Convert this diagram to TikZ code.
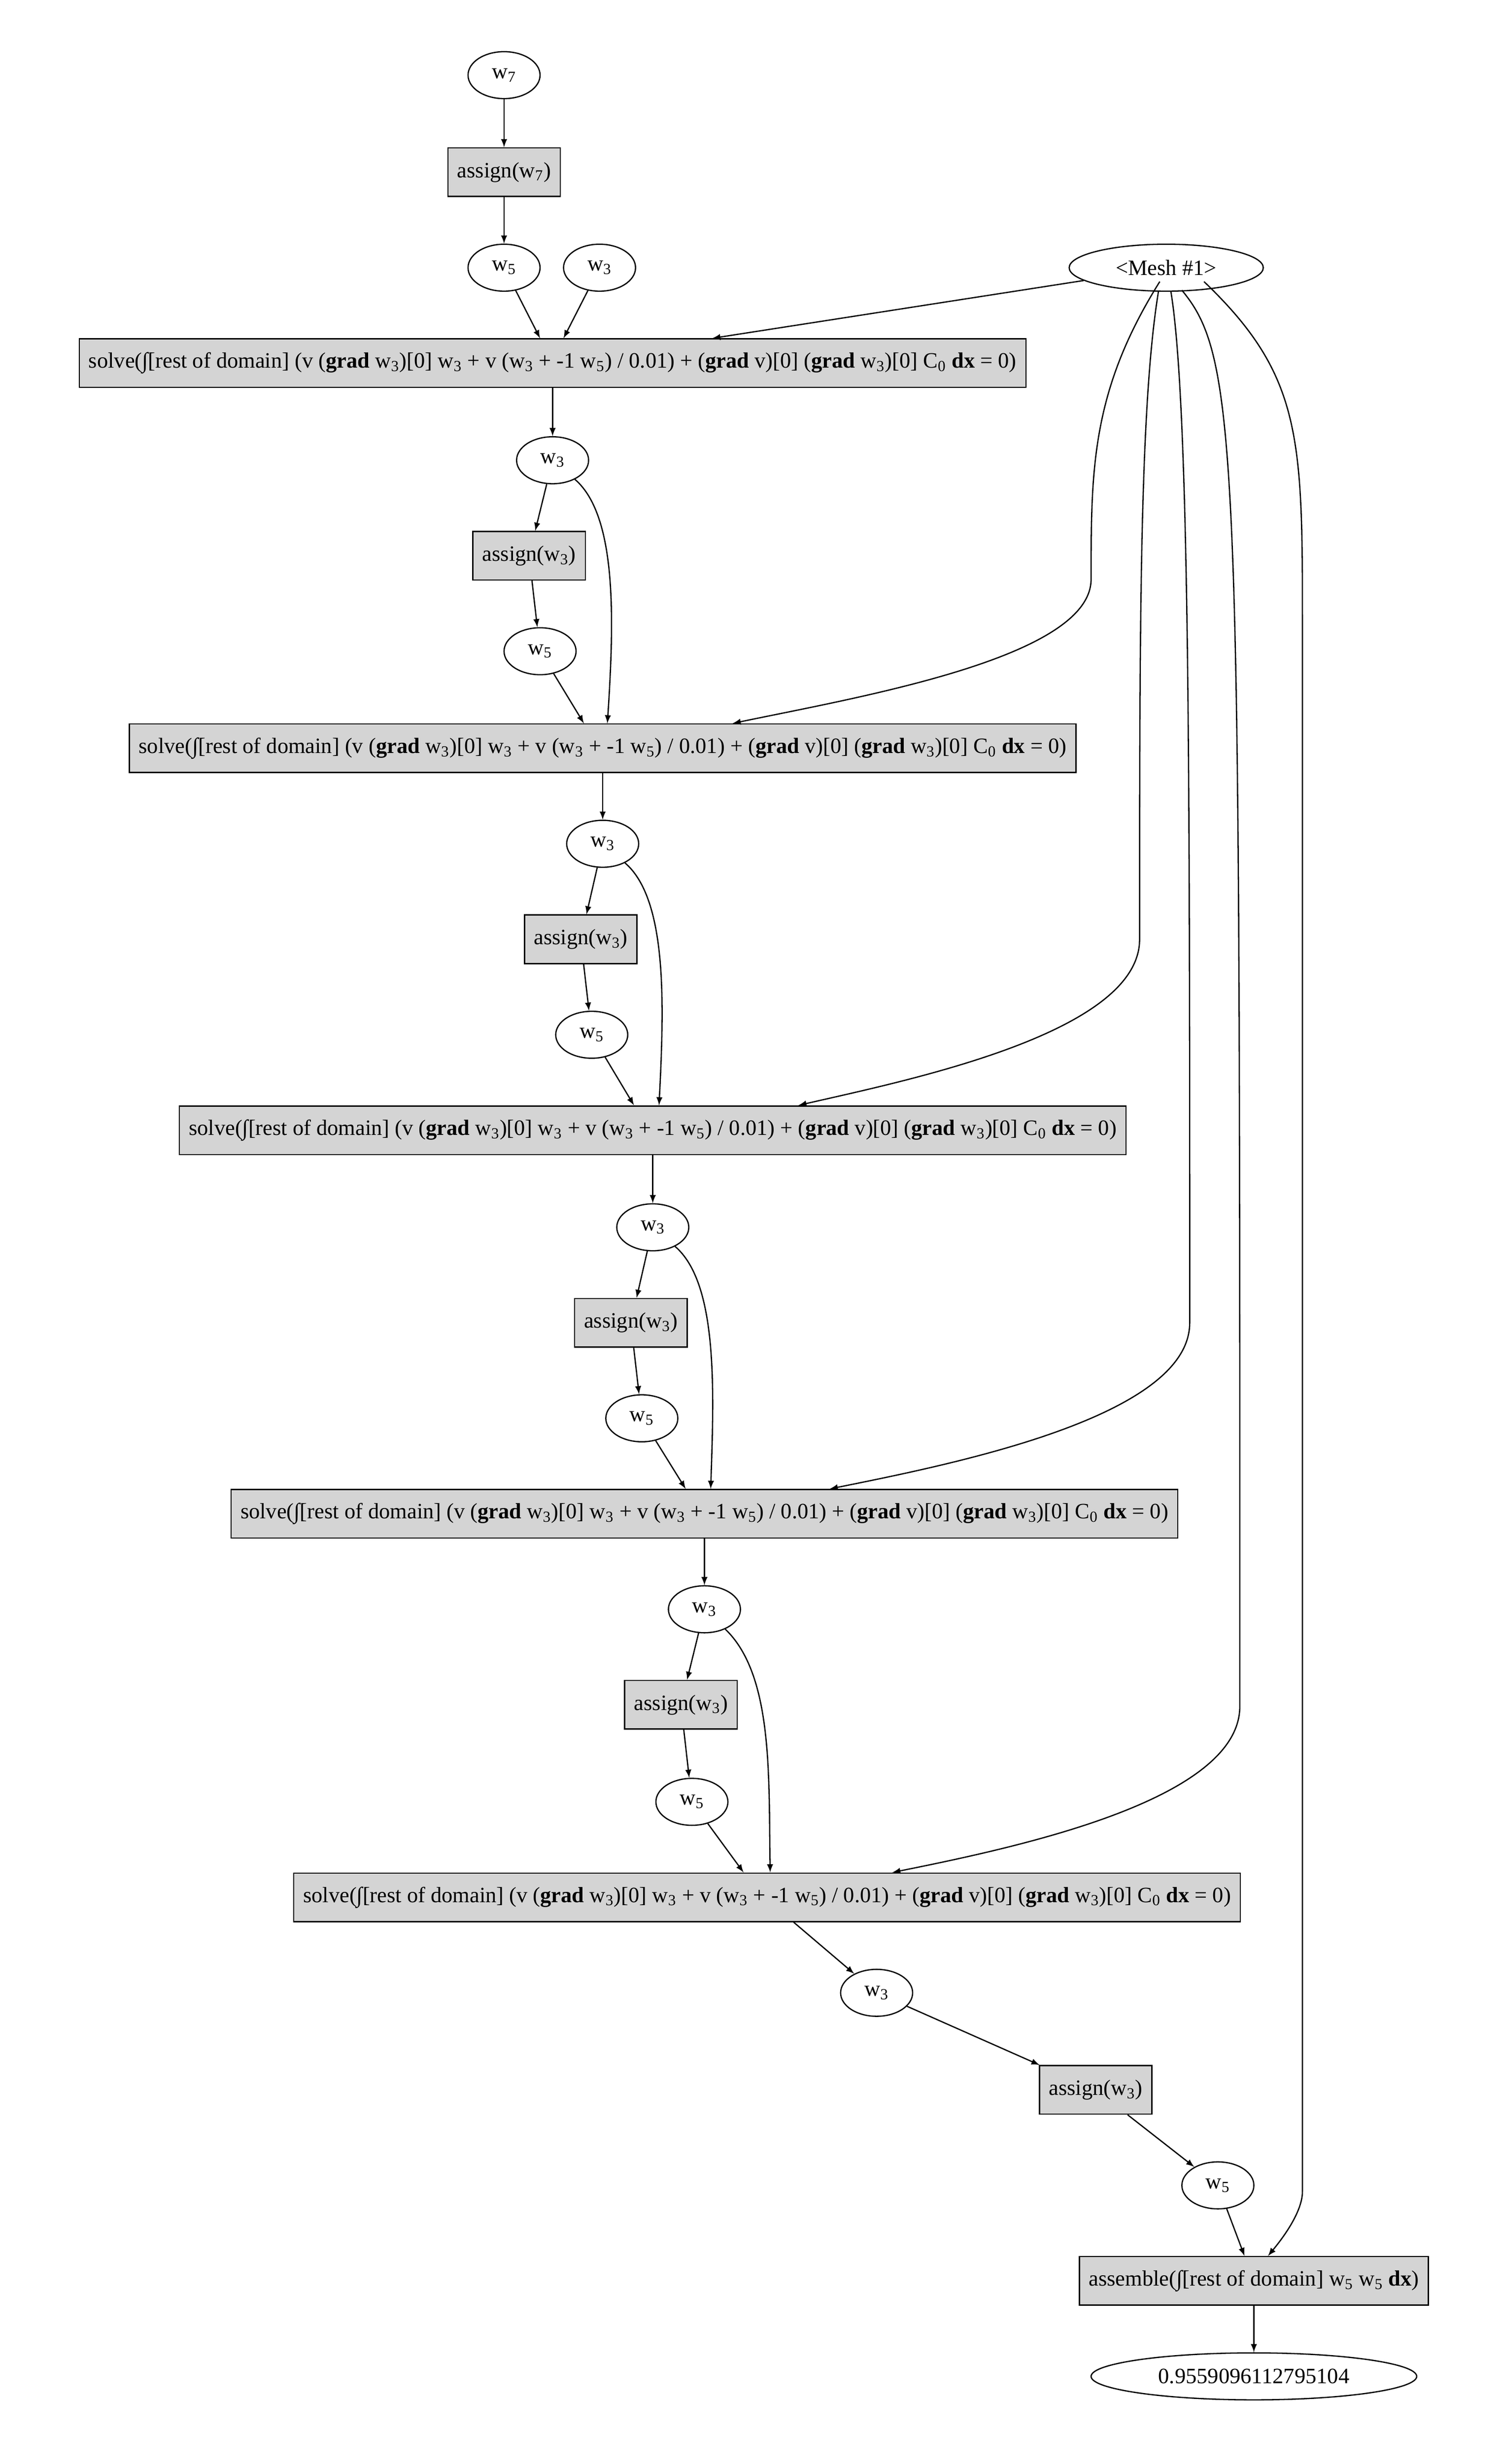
\documentclass[tikz,border=0pt]{standalone}
\usepackage{fontspec}
\setmainfont{Liberation Serif}
\usetikzlibrary{shapes.geometric}
\newcommand{\ws}[1]{w\textsubscript{#1}}
\newcommand{\solvetext}{solve(∫[rest of domain] (v (\textbf{grad} \ws{3})[0] \ws{3} + v (\ws{3} + -1 \ws{5}) / 0.01) + (\textbf{grad} v)[0] (\textbf{grad} \ws{3})[0] C\textsubscript{0} \textbf{dx} = 0)}
\tikzset{
  var/.style={draw, ellipse, minimum width=46pt, minimum height=30pt, inner sep=1pt},
  op/.style={draw, fill=black!17, rectangle, minimum height=31pt, inner sep=6pt},
  edge/.style={-latex, line width=0.8pt}
}
\begin{document}
\begin{tikzpicture}[x=1pt, y=-1pt, font=\fontsize{14}{16}\selectfont, line width=0.8pt]
\useasboundingbox (0,0) rectangle (960,1574);
% variables and operations
\node[var] (w7) at (322,48) {\ws{7}};
\node[op] (a7) at (322,110) {assign(\ws{7})};
\node[var] (w5a) at (322,171) {\ws{5}};
\node[var] (w3a) at (383,171) {\ws{3}};
\node[var, minimum width=124pt] (mesh) at (745,171) {<Mesh \#1>};
\node[op] (s1) at (353,232) {\solvetext};
\node[var] (w3b) at (353,294) {\ws{3}};
\node[op] (a1) at (338,355) {assign(\ws{3})};
\node[var] (w5b) at (345,416) {\ws{5}};
\node[op] (s2) at (385,478) {\solvetext};
\node[var] (w3c) at (385,539) {\ws{3}};
\node[op] (a2) at (371,600) {assign(\ws{3})};
\node[var] (w5c) at (378,661) {\ws{5}};
\node[op] (s3) at (417,722) {\solvetext};
\node[var] (w3d) at (417,784) {\ws{3}};
\node[op] (a3) at (403,845) {assign(\ws{3})};
\node[var] (w5d) at (410,906) {\ws{5}};
\node[op] (s4) at (450,967) {\solvetext};
\node[var] (w3e) at (450,1028) {\ws{3}};
\node[op] (a4) at (435,1089) {assign(\ws{3})};
\node[var] (w5e) at (442,1151) {\ws{5}};
\node[op] (s5) at (490,1212) {\solvetext};
\node[var] (w3f) at (560,1273) {\ws{3}};
\node[op] (a5) at (700,1335) {assign(\ws{3})};
\node[var] (w5f) at (778,1396) {\ws{5}};
\node[op] (as) at (801,1457) {assemble(∫[rest of domain] \ws{5} \ws{5} \textbf{dx})};
\node[var, minimum width=208pt] (res) at (801,1518) {0.9559096112795104};

% chain edges
\draw[edge] (w7) -- (a7);
\draw[edge] (a7) -- (w5a);
\draw[edge] (w5a) -- (s1.north -| 345,0);
\draw[edge] (w3a) -- (s1.north -| 360,0);
\draw[edge] (mesh) -- (s1.north -| 455,0);
\draw[edge] (s1) -- (w3b);
\draw[edge] (w3b) -- (a1);
\draw[edge] (a1) -- (w5b);
\draw[edge] (w5b) -- (s2.north -| 373,0);
\draw[edge] (w3b) .. controls (395,330) and (392,400) .. (s2.north -| 388,0);
\draw[edge] (s2) -- (w3c);
\draw[edge] (w3c) -- (a2);
\draw[edge] (a2) -- (w5c);
\draw[edge] (w5c) -- (s3.north -| 405,0);
\draw[edge] (w3c) .. controls (427,575) and (424,645) .. (s3.north -| 421,0);
\draw[edge] (s3) -- (w3d);
\draw[edge] (w3d) -- (a3);
\draw[edge] (a3) -- (w5d);
\draw[edge] (w5d) -- (s4.north -| 438,0);
\draw[edge] (w3d) .. controls (459,820) and (456,890) .. (s4.north -| 454,0);
\draw[edge] (s4) -- (w3e);
\draw[edge] (w3e) -- (a4);
\draw[edge] (a4) -- (w5e);
\draw[edge] (w5e) -- (s5.north -| 475,0);
\draw[edge] (w3e) .. controls (494,1070) and (491,1135) .. (s5.north -| 492,0);
\draw[edge] (s5.south -| 507,0) -- (w3f);
\draw[edge] (w3f) -- (a5);
\draw[edge] (a5) -- (w5f);
\draw[edge] (w5f) -- (as.north -| 795,0);
\draw[edge] (as) -- (res);

% mesh edges
\draw[edge] (mesh.south west) ++(40,-2) .. controls (697,250) and (697,300) .. (697,370)
  .. controls (697,420) and (550,445) .. (s2.north -| 468,0);
\draw[edge] (mesh.south) ++(-5,0) .. controls (728,260) and (728,400) .. (728,600)
  .. controls (728,660) and (580,690) .. (s3.north -| 510,0);
\draw[edge] (mesh.south) ++(3,0) .. controls (760,260) and (760,500) .. (760,845)
  .. controls (760,905) and (610,935) .. (s4.north -| 530,0);
\draw[edge] (mesh.south) ++(10,-1) .. controls (792,230) and (792,290) .. (792,1090)
  .. controls (792,1150) and (650,1180) .. (s5.north -| 570,0);
\draw[edge] (mesh.south east) ++(-20,-2) .. controls (832,240) and (832,280) .. (832,400)
  -- (832,1400) .. controls (832,1415) and (815,1435) .. (as.north -| 810,0);
\end{tikzpicture}
\end{document}
